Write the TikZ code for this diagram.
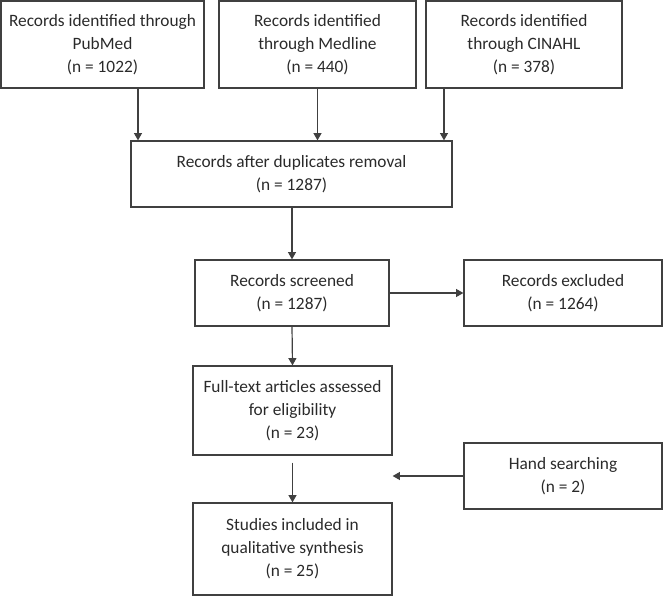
\documentclass[tikz,border=0pt]{standalone}
\usepackage{fontspec}
\setmainfont{Carlito}
\usetikzlibrary{arrows.meta,calc}
\definecolor{linec}{HTML}{404040}
\definecolor{textc}{HTML}{2A2A2A}
\begin{document}
\begin{tikzpicture}[x=0.75pt,y=-0.75pt,
  box/.style={draw=linec,line width=0.9pt,rectangle,inner sep=0pt,align=center,
    text=textc,font=\fontsize{13}{17.25}\selectfont},
  arr/.style={draw=linec,line width=0.9pt,-{Triangle[length=5.5pt,width=6pt]}}]
\useasboundingbox (0,0) rectangle (663,596);
\node[box,minimum width=203*0.75pt,minimum height=87*0.75pt] (pub) at (102.5,44.5) {Records identified through\\PubMed\\(n = 1022)};
\node[box,minimum width=197*0.75pt,minimum height=87*0.75pt] (med) at (317.5,44.5) {Records identified\\through Medline\\(n = 440)};
\node[box,minimum width=196*0.75pt,minimum height=87*0.75pt] (cin) at (524,44.5) {Records identified\\through CINAHL\\(n = 378)};
\node[box,minimum width=321*0.75pt,minimum height=66*0.75pt] (dup) at (291.5,174) {Records after duplicates removal\\(n = 1287)};
\node[box,minimum width=194*0.75pt,minimum height=66*0.75pt] (scr) at (292,293) {Records screened\\(n = 1287)};
\node[box,minimum width=198*0.75pt,minimum height=66*0.75pt] (exc) at (563,293) {Records excluded\\(n = 1264)};
\node[box,minimum width=199*0.75pt,minimum height=89*0.75pt] (full) at (292.5,410.5) {Full-text articles assessed\\for eligibility\\(n = 23)};
\node[box,minimum width=198*0.75pt,minimum height=66*0.75pt] (hand) at (563,476) {Hand searching\\(n = 2)};
\node[box,minimum width=199*0.75pt,minimum height=92*0.75pt] (stud) at (292.5,549) {Studies included in\\qualitative synthesis\\(n = 25)};
\coordinate (c1) at (138,0);
\coordinate (c2) at (317.5,0);
\coordinate (c3) at (444,0);
\draw[arr] (pub.south -| c1) -- (c1 |- dup.north);
\draw[arr] (med.south -| c2) -- (c2 |- dup.north);
\draw[arr] (cin.south -| c3) -- (c3 |- dup.north);
\draw[arr] (dup.south -| scr.north) -- (scr.north);
\draw[arr] (scr.east) -- (exc.west);
\draw[arr] (scr.south) -- (full.north);
\coordinate (fs) at ($(full.south)+(0,7)$);
\draw[arr] (fs) -- (stud.north);
\draw[arr] (hand.west) -- (hand.west -| full.east);
\end{tikzpicture}
\end{document}
